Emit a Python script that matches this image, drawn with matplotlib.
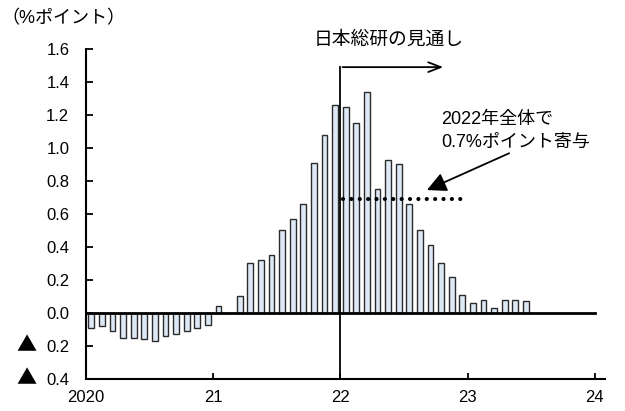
import matplotlib.pyplot as plt
from matplotlib.transforms import blended_transform_factory

plt.rcParams['font.family'] = ['Liberation Sans', 'Noto Sans CJK JP', 'DejaVu Sans']

# monthly contribution, Jan 2020 - Jun 2023 (%pt)
start_year = 2020
values = [-0.09, -0.08, -0.11, -0.15, -0.15, -0.16, -0.17, -0.14, -0.13, -0.11, -0.09, -0.07,
          0.04, 0.0, 0.10, 0.30, 0.32, 0.35, 0.50, 0.57, 0.66, 0.91, 1.08, 1.26,
          1.25, 1.15, 1.34, 0.75, 0.93, 0.90, 0.66, 0.50, 0.41, 0.30, 0.22, 0.11,
          0.06, 0.08, 0.03, 0.08, 0.08, 0.07]
avg_2022 = 0.69
forecast_start = 2022
yticks = [-0.4, -0.2, 0.0, 0.2, 0.4, 0.6, 0.8, 1.0, 1.2, 1.4, 1.6]
ytick_labels = ['0.4', '0.2', '0.0', '0.2', '0.4', '0.6', '0.8', '1.0', '1.2', '1.4', '1.6']
neg_ticks = [-0.4, -0.2]   # shown with ▲ mark
xticks = [2020, 2021, 2022, 2023, 2024]
xtick_labels = ['2020', '21', '22', '23', '24']

xs = [start_year + (i + 0.5) / 12 for i in range(len(values))]

fig = plt.figure(figsize=(6.25, 4.11), dpi=100)
ax = fig.add_axes([0.1376, 0.0779, 0.8304, 0.8029])

ax.bar(xs, values, width=0.55 / 12, color='#dde9f5', edgecolor='#2b2b2b', linewidth=1.0, zorder=2)

ax.set_xlim(2020, 2024.08)
ax.set_ylim(-0.4, 1.6)

# zero line
ax.plot([2020, 2024], [0, 0], color='black', lw=2, zorder=3)

# forecast marker
ax.plot([forecast_start, forecast_start], [-0.4, 1.49], color='black', lw=1.3, zorder=4)
ax.annotate('', xy=(2022.83, 1.49), xytext=(forecast_start - 0.005, 1.49),
            arrowprops=dict(arrowstyle='->,head_length=0.9,head_width=0.35', color='black', lw=1.3))
ax.text(2022.38, 1.6, '日本総研の見通し', ha='center', va='bottom', fontsize=13.5)

# 2022 average
ax.plot([2022.02, 2023.0], [avg_2022, avg_2022], color='black', lw=3,
        linestyle=(0, (0.01, 2.0)), dash_capstyle='round', zorder=4)
ax.annotate('2022年全体で\n0.7%ポイント寄与', xy=(2022.68, 0.745), xytext=(2022.79, 0.985),
            fontsize=13, ha='left', va='bottom', linespacing=1.4,
            arrowprops=dict(arrowstyle='-|>,head_length=0.9,head_width=0.45', color='black', lw=1.3,
                            shrinkA=0, shrinkB=0, relpos=(0.5, 0)))

ax.set_yticks(yticks)
ax.set_yticklabels(ytick_labels)
ax.set_xticks(xticks)
ax.set_xticklabels(xtick_labels)
ax.tick_params(axis='both', direction='in', labelsize=12, width=1.3)
ax.tick_params(axis='y', length=5, pad=12)
ax.tick_params(axis='x', length=4, pad=8)

# ▲ marks for negative values
trans = blended_transform_factory(fig.transFigure, ax.transData)
for v in neg_ticks:
    ax.text(0.043, v, '▲', transform=trans, ha='center', va='center',
            fontsize=14.5, family='Noto Sans CJK JP')

ax.spines['top'].set_visible(False)
ax.spines['right'].set_visible(False)
ax.spines['left'].set_linewidth(1.5)
ax.spines['bottom'].set_linewidth(1.5)

fig.text(0.003, 0.955, '（%ポイント）', fontsize=13, ha='left', va='center')

plt.savefig('out.png', dpi=100)
